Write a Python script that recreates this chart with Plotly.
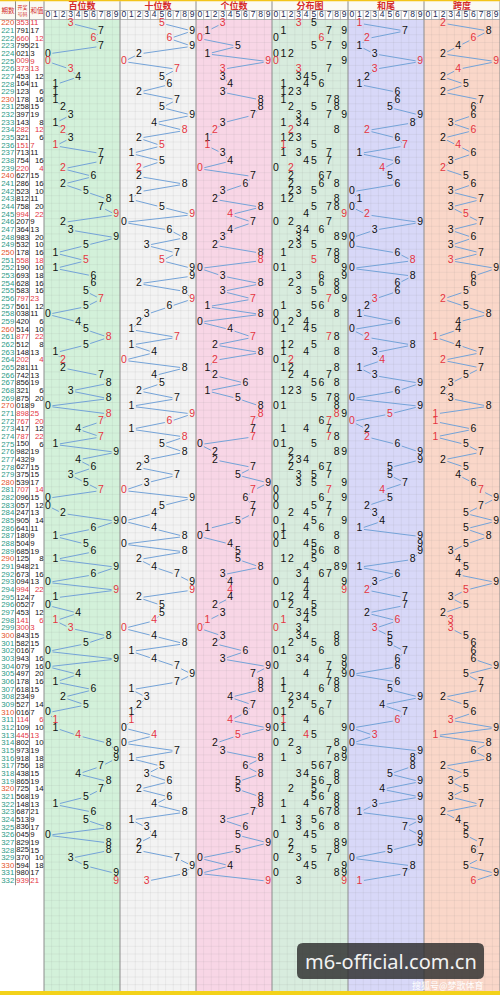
import plotly.graph_objects as go

# ---- data ----
periods = list(range(220, 333))
draws = [
    "353", "791", "660", "795", "021", "009", "373", "453", "164", "123",
    "178", "258", "397", "143", "282", "321", "151", "713", "754", "220",
    "627", "286", "523", "812", "758", "994", "207", "364", "983", "532",
    "178", "558", "190", "693", "628", "583", "797", "561", "038", "420",
    "514", "877", "512", "148", "202", "281", "742", "856", "321", "875",
    "018", "898", "767", "417", "787", "150", "982", "432", "627", "375",
    "539", "707", "096", "057", "247", "905", "641", "180", "504", "685",
    "125", "948", "673", "094", "994", "124", "052", "453", "141", "300",
    "843", "582", "016", "943", "079", "497", "178", "618", "234", "527",
    "016", "114", "109", "445", "802", "973", "918", "756", "438", "865",
    "725", "568", "148", "687", "513", "836", "045", "829", "825", "370",
    "594", "980", "939",
]
sums = [
    11, 17, 12, 21, 3, 9, 13, 12, 11, 6,
    16, 15, 19, 8, 12, 6, 7, 11, 16, 4,
    15, 16, 10, 11, 20, 22, 9, 13, 20, 10,
    16, 18, 10, 18, 16, 16, 23, 12, 11, 6,
    10, 22, 8, 13, 4, 11, 13, 19, 6, 20,
    9, 25, 20, 12, 22, 6, 19, 9, 15, 15,
    17, 14, 15, 12, 13, 14, 11, 9, 9, 19,
    8, 21, 16, 13, 22, 7, 7, 12, 6, 3,
    15, 15, 7, 16, 16, 20, 16, 15, 9, 14,
    7, 6, 10, 13, 10, 19, 18, 18, 15, 19,
    14, 19, 13, 21, 9, 17, 9, 19, 15, 10,
    18, 17, 21,
]
sections = ["百位数", "十位数", "个位数", "分布图", "和尾", "跨度"]
digit_labels = [str(d) for d in range(10)]
left_titles = ["期数", "开奖<br>号码", "和值"]

hundreds = [int(s[0]) for s in draws]
tens = [int(s[1]) for s in draws]
ones = [int(s[2]) for s in draws]
tails = [v % 10 for v in sums]
spans = [max(int(c) for c in s) - min(int(c) for c in s) for s in draws]
group3 = [len(set(s)) < 3 for s in draws]

# ---- layout ----
W, H = 500, 995
ROW0, ROW_H = 23.3, 7.66
SX0, SW = 44.0, 76.0
CELL = SW / 10
DATA_TOP = 19.5
BOTTOM = 991
n = len(draws)
RED = "#e5353f"
BLUE = "#74a3d8"
bg = ["#d3f1da", "#f3f3f3", "#f8d6e6", "#d8ecde", "#d8d8f8", "#fad7c9"]


def ry(i):
    return ROW0 + ROW_H * i


def cx(sec, d):
    return SX0 + sec * SW + CELL * (d + 0.5)


fig = go.Figure()
shapes = []

# section backgrounds
for k in range(6):
    shapes.append(dict(type="rect", layer="below", x0=SX0 + k * SW, x1=SX0 + (k + 1) * SW,
                       y0=DATA_TOP, y1=BOTTOM, fillcolor=bg[k], line_width=0))
# header
shapes.append(dict(type="rect", layer="below", x0=0, x1=W, y0=0, y1=DATA_TOP,
                   fillcolor="#fbfaf3", line_width=0))
shapes.append(dict(type="rect", layer="below", x0=SX0, x1=W, y0=10.5, y1=DATA_TOP,
                   fillcolor="#ffffff", line_width=0))
shapes.append(dict(type="rect", x0=0, x1=W, y0=0, y1=1.2, fillcolor="#f3c419", line_width=0))
shapes.append(dict(type="rect", x0=0, x1=W, y0=BOTTOM, y1=H, fillcolor="#f3d21a", line_width=0))

# grid
gx, gy = [], []
for k in range(6):
    for d in range(1, 10):
        x = SX0 + k * SW + d * CELL
        gx += [x, x, None]
        gy += [DATA_TOP, BOTTOM, None]
yy = DATA_TOP
while yy < BOTTOM:
    gx += [SX0, W, None]
    gy += [yy, yy, None]
    yy += ROW_H
fig.add_trace(go.Scatter(x=gx, y=gy, mode="lines", hoverinfo="skip",
                         line=dict(color="rgba(130,130,130,0.17)", width=0.6)))

# header cell borders
hx, hy = [], []
for k in range(6):
    for d in range(11):
        x = SX0 + k * SW + d * CELL
        hx += [x, x, None]
        hy += [10.5, DATA_TOP, None]
hx += [SX0, W, None, 0, W, None]
hy += [10.5, 10.5, None, DATA_TOP, DATA_TOP, None]
fig.add_trace(go.Scatter(x=hx, y=hy, mode="lines", hoverinfo="skip",
                         line=dict(color="#9a9a9a", width=0.7)))

# column / section separators
sx, sy = [], []
for x in [15.5, 29.5] + [SX0 + k * SW for k in range(7)]:
    sx += [x, x, None]
    sy += [1.2, BOTTOM if x >= SX0 else ry(n - 1) + 4, None]
fig.add_trace(go.Scatter(x=sx, y=sy, mode="lines", hoverinfo="skip",
                         line=dict(color="#8c8c8c", width=1)))

# header texts
fig.add_trace(go.Scatter(
    x=[SX0 + (k + 0.5) * SW for k in range(6)], y=[6.6] * 6, mode="text", text=sections,
    textfont=dict(family="Noto Sans CJK SC", size=9, color="#d42a2a", weight="bold"),
    hoverinfo="skip"))
fig.add_trace(go.Scatter(
    x=[cx(k, d) for k in range(6) for d in range(10)], y=[15.3] * 60, mode="text",
    text=digit_labels * 6, textfont=dict(family="Liberation Sans", size=8.5, color="#1d2b55"),
    hoverinfo="skip"))
fig.add_trace(go.Scatter(
    x=[8, 22.5, 37], y=[11, 11, 11], mode="text", text=left_titles,
    textfont=dict(family="Noto Sans CJK SC", size=[6.5, 5, 6.5], color="#d42a2a"),
    hoverinfo="skip"))

# left columns
ys = [ry(i) for i in range(n)]
fig.add_trace(go.Scatter(
    x=[7.8] * n, y=ys, mode="text", text=[str(p) for p in periods], hoverinfo="skip",
    textfont=dict(family="Liberation Sans", size=7.8,
                  color=["#e5532a" if p % 10 == 0 else "#2b9a86" for p in periods])))
fig.add_trace(go.Scatter(
    x=[22.6] * n, y=ys, mode="text", text=draws, hoverinfo="skip",
    textfont=dict(family="Liberation Sans", size=7.6,
                  color=[RED if g else "#111111" for g in group3])))
odd = [i for i in range(n) if sums[i] % 2 == 1]
even = [i for i in range(n) if sums[i] % 2 == 0]
for idx, xpos, pos in [(odd, 30.3, "middle right"), (even, 43.6, "middle left")]:
    fig.add_trace(go.Scatter(
        x=[xpos] * len(idx), y=[ys[i] for i in idx], mode="text",
        text=[str(sums[i]) for i in idx], textposition=pos, hoverinfo="skip",
        marker=dict(size=1),
        textfont=dict(family="Liberation Sans", size=7.8,
                      color=[RED if group3[i] else "#111111" for i in idx])))

# trend sections
series = {0: hundreds, 1: tens, 2: ones, 4: tails, 5: spans}
GAP = 4.6
for sec, vals in series.items():
    xs = [cx(sec, v) for v in vals]
    lx, ly = [], []
    for i in range(n - 1):
        x1, y1, x2, y2 = xs[i], ys[i], xs[i + 1], ys[i + 1]
        L = ((x2 - x1) ** 2 + (y2 - y1) ** 2) ** 0.5
        if L <= 2 * GAP + 0.5:
            continue
        ux, uy = (x2 - x1) / L, (y2 - y1) / L
        lx += [x1 + ux * GAP, x2 - ux * GAP, None]
        ly += [y1 + uy * GAP, y2 - uy * GAP, None]
    fig.add_trace(go.Scatter(x=lx, y=ly, mode="lines", hoverinfo="skip",
                             line=dict(color=BLUE, width=1)))
    fig.add_trace(go.Scatter(
        x=xs, y=ys, mode="text", text=[str(v) for v in vals], hoverinfo="skip",
        textfont=dict(family="Liberation Sans", size=10.5,
                      color=[RED if g else "#111111" for g in group3])))

# distribution map
dx, dy, dt, dc = [], [], [], []
for i, s in enumerate(draws):
    for d in sorted(set(int(c) for c in s)):
        dx.append(cx(3, d))
        dy.append(ys[i])
        dt.append(str(d))
        dc.append(RED if s.count(str(d)) > 1 else "#111111")
fig.add_trace(go.Scatter(x=dx, y=dy, mode="text", text=dt, hoverinfo="skip",
                         textfont=dict(family="Liberation Sans", size=10.5, color=dc)))

# watermark
x0, x1, y0, y1, r = 297, 484, 943, 979, 6
shapes.append(dict(
    type="path", fillcolor="rgba(45,45,45,0.82)", line_width=0,
    path=f"M {x0 + r} {y0} L {x1 - r} {y0} Q {x1} {y0} {x1} {y0 + r} L {x1} {y1 - r} "
         f"Q {x1} {y1} {x1 - r} {y1} L {x0 + r} {y1} Q {x0} {y1} {x0} {y1 - r} "
         f"L {x0} {y0 + r} Q {x0} {y0} {x0 + r} {y0} Z"))
annotations = [
    dict(x=390.5, y=961, text="m6-official.com.cn", showarrow=False,
         font=dict(family="Noto Sans", size=20, color="#f2f2f2")),
    dict(x=448, y=985, text="搜狐号@梦歌体育", showarrow=False,
         font=dict(family="Noto Sans CJK SC", size=9, color="#ffffff")),
]

fig.update_layout(
    width=W, height=H, margin=dict(l=0, r=0, t=0, b=0),
    paper_bgcolor="#ffffff", plot_bgcolor="rgba(0,0,0,0)", showlegend=False,
    xaxis=dict(range=[0, W], visible=False, fixedrange=True),
    yaxis=dict(range=[H, 0], visible=False, fixedrange=True),
    shapes=shapes, annotations=annotations,
)

fig.write_html("out.html", config=dict(displayModeBar=False),
               post_script="document.body.style.margin='0';")
